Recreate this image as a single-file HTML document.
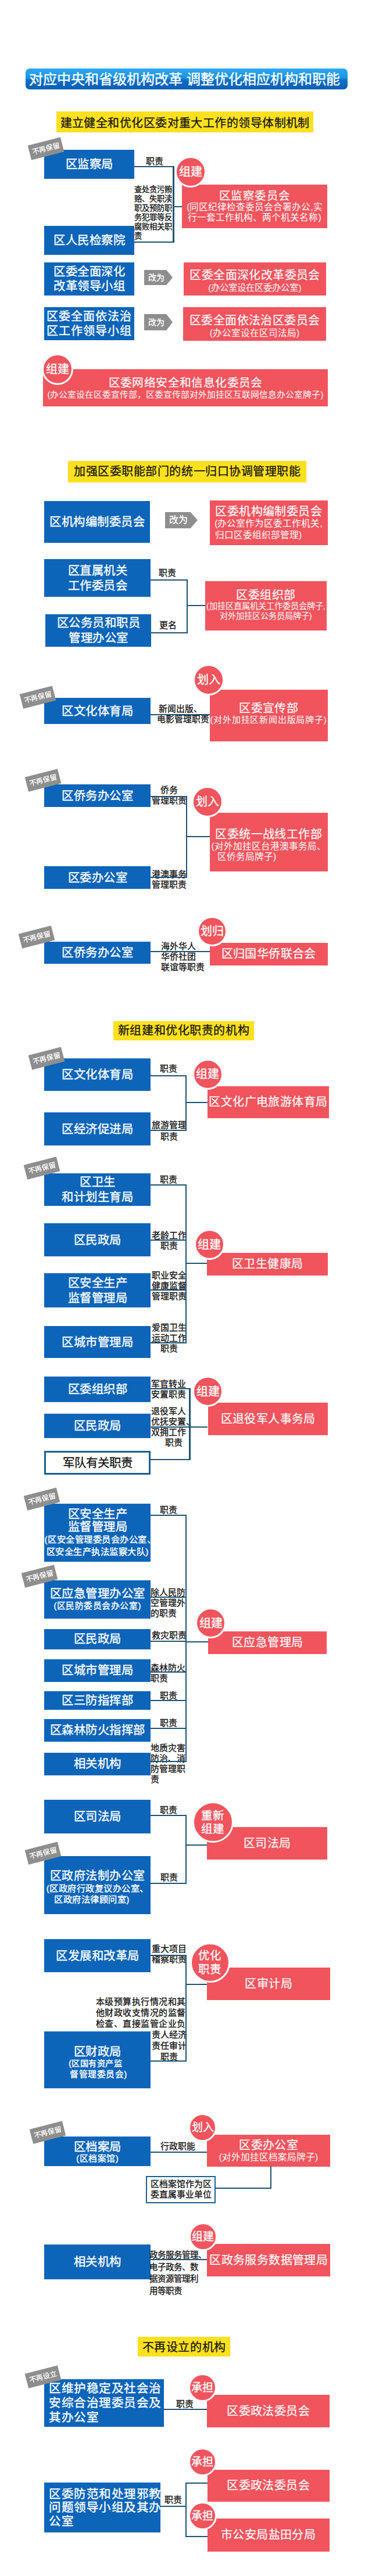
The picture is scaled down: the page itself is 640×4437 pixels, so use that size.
<!DOCTYPE html>
<html lang="zh-CN"><head><meta charset="utf-8"><title>机构改革</title><style>
*{margin:0;padding:0;box-sizing:content-box}
html,body{width:640px;height:4437px;background:#fff;overflow:hidden}
body{font-family:"Liberation Sans",sans-serif;position:relative}
.bx,.rx,.yx,.tg,.ci,.ln,.lb,.ar,.wx,.title{position:absolute}
.bx{letter-spacing:0.5px;text-indent:0.5px;white-space:nowrap;background:#0d65b9;color:#fff;-webkit-text-stroke:0.35px #fff;display:flex;flex-direction:column;justify-content:center;box-sizing:border-box}
.rx{letter-spacing:0.4px;text-indent:0.4px;white-space:nowrap;background:#f1545d;color:#fff;-webkit-text-stroke:0.2px #fff;display:flex;flex-direction:column;justify-content:center;text-align:center}
.yx{background:#fde01e;color:#111;text-align:center;-webkit-text-stroke:0.25px #111;white-space:nowrap}
.tg{background:#8e8e8e;color:#fff;-webkit-text-stroke:0.25px #fff;text-align:center;white-space:nowrap;z-index:3}
.ci{background:#f1545d;color:#fff;-webkit-text-stroke:0.3px #fff;border:3px solid #fff;border-radius:50%;display:flex;align-items:center;justify-content:center;text-align:center;z-index:4}
.ln{background:#1d5271}
.lb{color:#111;-webkit-text-stroke:0.3px #111;white-space:nowrap}
.ar{background:#8e8e8e;color:#fff;-webkit-text-stroke:0.3px #fff;text-align:left;padding-left:7px;box-sizing:border-box;clip-path:polygon(0 0,78% 0,100% 50%,78% 100%,0 100%)}
.wx{background:#fff;border:2px solid #1a5f8f;color:#111;-webkit-text-stroke:0.3px #111;text-align:center;display:flex;align-items:center;justify-content:center}
.title{background:linear-gradient(#2fa9f3 0%,#1a93e2 46%,#0c70c9 54%,#0a5eb4 100%);color:#fff;border-radius:7px;text-align:center;-webkit-text-stroke:0.4px #fff;white-space:nowrap}
</style></head>
<body>
<div class="title" style="left:44px;top:117.5px;width:554px;height:36.5px;line-height:38px;font-size:24px;text-indent:-7px">对应中央和省级机构改革 调整优化相应机构和职能</div>
<div class="yx" style="left:97px;top:192px;width:442px;height:36px;font-size:20px;line-height:41px;letter-spacing:0.44px;text-indent:0.44px">建立健全和优化区委对重大工作的领导体制机制</div>
<div class="bx" style="left:76px;top:258px;width:155px;height:50px;font-size:20.4px;line-height:26px;text-align:center;padding-left:0px;"><div>区监察局</div></div>
<div class="bx" style="left:76px;top:389px;width:155px;height:50px;font-size:20.4px;line-height:26px;text-align:center;padding-left:0px;"><div>区人民检察院</div></div>
<div class="bx" style="left:76px;top:452px;width:155px;height:57px;font-size:20.4px;line-height:25px;text-align:center;padding-left:0px;"><div>区委全面深化</div><div>改革领导小组</div></div>
<div class="bx" style="left:76px;top:529px;width:155px;height:57px;font-size:20px;line-height:25px;text-align:center;padding-left:0px;letter-spacing:1px"><div>区委全面依法治</div><div>区工作领导小组</div></div>
<div class="tg" style="left:50.0px;top:243.0px;width:58px;height:26px;line-height:26px;font-size:12px;transform:rotate(-14.5deg)">不再保留</div>
<div class="lb" style="left:244px;top:269px;width:44px;font-size:14.9px;line-height:18px;text-align:center">职责</div>
<div class="ln" style="left:231px;top:286.0px;width:68.5px;height:2px"></div>
<div class="ln" style="left:297.2px;top:286px;width:2.5px;height:131.5px"></div>
<div class="ln" style="left:231px;top:415.5px;width:68.5px;height:2px"></div>
<div class="ln" style="left:298.5px;top:355.0px;width:15.5px;height:2px"></div>
<div class="lb" style="left:231px;top:318.5px;width:68px;font-size:13.3px;line-height:16.1px;text-align:left">查处贪污贿<br>赂、失职渎<br>职及预防职<br>务犯罪等反<br>腐败相关职<br>责</div>
<div class="rx" style="left:313px;top:318px;width:250px;height:75px;font-size:19.5px;line-height:21px;"><div>区监察委员会</div><div style="font-size:15.6px;line-height:18.5px;letter-spacing:0px;text-indent:0;-webkit-text-stroke:0">(同区纪律检查委员会合署办公,实</div><div style="font-size:15.6px;line-height:18.5px;letter-spacing:0px;text-indent:0;-webkit-text-stroke:0">行一套工作机构、两个机关名称)</div></div>
<div class="ci" style="left:300.5px;top:268.5px;width:48px;height:48px;border-width:3px;font-size:20px;line-height:22px">组建</div>
<div class="ar" style="left:248px;top:465px;width:49px;height:26px;line-height:26px;font-size:14px">改为</div>
<div class="rx" style="left:316px;top:452px;width:245px;height:57px;font-size:20px;line-height:24px;padding-top:7px;box-sizing:border-box"><div>区委全面深化改革委员会</div><div style="font-size:15.4px;line-height:20px;letter-spacing:0px;text-indent:0;-webkit-text-stroke:0">(办公室设在区委办公室)</div></div>
<div class="ar" style="left:248px;top:541px;width:49px;height:28px;line-height:28px;font-size:14px">改为</div>
<div class="rx" style="left:315px;top:529px;width:246px;height:58px;font-size:20px;line-height:24px;padding-top:7px;box-sizing:border-box"><div>区委全面依法治区委员会</div><div style="font-size:15.6px;line-height:20px;letter-spacing:0px;text-indent:0;-webkit-text-stroke:0">(办公室设在区司法局)</div></div>
<div class="rx" style="left:74px;top:636px;width:490px;height:64px;font-size:19.8px;line-height:23px;"><div>区委网络安全和信息化委员会</div><div style="font-size:14.8px;line-height:18px;letter-spacing:0px;text-indent:0;-webkit-text-stroke:0">(办公室设在区委宣传部，区委宣传部对外加挂区互联网信息办公室牌子)</div></div>
<div class="ci" style="left:71.5px;top:608.5px;width:48px;height:48px;border-width:3px;font-size:20px;line-height:22px">组建</div>
<div class="yx" style="left:117px;top:793.5px;width:410px;height:37px;font-size:20px;line-height:37px;letter-spacing:0.55px;text-indent:0.55px">加强区委职能部门的统一归口协调管理职能</div>
<div class="bx" style="left:76px;top:863px;width:182px;height:72px;font-size:20.4px;line-height:26px;text-align:center;padding-left:0px;"><div>区机构编制委员会</div></div>
<div class="ar" style="left:284px;top:882px;width:56px;height:28px;line-height:28px;font-size:16px">改为</div>
<div class="rx" style="left:360.5px;top:862px;width:203px;height:77px;font-size:20px;line-height:22px;"><div>区委机构编制委员会</div><div style="font-size:15.6px;line-height:19.5px;letter-spacing:0px;text-indent:0;-webkit-text-stroke:0">(办公室作为区委工作机关,</div><div style="font-size:15.6px;line-height:19.5px;letter-spacing:0px;text-indent:0;-webkit-text-stroke:0"><span style="display:inline-block;width:184px;text-align:left">归口区委组织部管理)</span></div></div>
<div class="bx" style="left:76px;top:963px;width:183px;height:65px;font-size:20.4px;line-height:26px;text-align:center;padding-left:0px;"><div>区直属机关</div><div>工作委员会</div></div>
<div class="bx" style="left:78px;top:1058px;width:182px;height:56px;font-size:20.4px;line-height:26px;text-align:center;padding-left:0px;"><div>区公务员和职员</div><div>管理办公室</div></div>
<div class="lb" style="left:266px;top:978px;width:44px;font-size:14.9px;line-height:18px;text-align:center">职责</div>
<div class="lb" style="left:267px;top:1068px;width:44px;font-size:14.9px;line-height:18px;text-align:center">更名</div>
<div class="ln" style="left:259px;top:998.0px;width:64px;height:2px"></div>
<div class="ln" style="left:320.8px;top:998px;width:2.5px;height:93px"></div>
<div class="ln" style="left:260px;top:1089.0px;width:63px;height:2px"></div>
<div class="ln" style="left:322px;top:1042.0px;width:31px;height:2px"></div>
<div class="rx" style="left:352.5px;top:1001px;width:209.5px;height:85px;font-size:20px;line-height:22px;padding-bottom:3px;box-sizing:border-box"><div>区委组织部</div><div style="font-size:14.3px;line-height:17.5px;letter-spacing:0px;text-indent:0;-webkit-text-stroke:0">(加挂区直属机关工作委员会牌子,</div><div style="font-size:14.3px;line-height:17.5px;letter-spacing:0px;text-indent:0;-webkit-text-stroke:0">对外加挂区公务员局牌子)</div></div>
<div class="tg" style="left:36.0px;top:1188.0px;width:58px;height:26px;line-height:26px;font-size:12px;transform:rotate(-14.5deg)">不再保留</div>
<div class="bx" style="left:76px;top:1202px;width:183px;height:45px;font-size:20.4px;line-height:26px;text-align:center;padding-left:0px;"><div>区文化体育局</div></div>
<div class="lb" style="left:270px;top:1213px;width:80px;font-size:14.8px;line-height:17.7px;text-align:center">新闻出版、<br>电影管理职责</div>
<div class="ln" style="left:259px;top:1230.0px;width:102px;height:2px"></div>
<div class="rx" style="left:360.5px;top:1188px;width:203px;height:89px;font-size:20px;line-height:22px;padding-bottom:8px;box-sizing:border-box"><div>区委宣传部</div><div style="font-size:15px;line-height:18px;letter-spacing:0.8px;text-indent:0;-webkit-text-stroke:0">(对外加挂区新闻出版局牌子)</div></div>
<div class="ci" style="left:331.5px;top:1144.0px;width:48px;height:48px;border-width:3px;font-size:20px;line-height:22px">划入</div>
<div class="tg" style="left:45.0px;top:1331.0px;width:58px;height:26px;line-height:26px;font-size:12px;transform:rotate(-14.5deg)">不再保留</div>
<div class="bx" style="left:76px;top:1351px;width:183px;height:39px;font-size:20.4px;line-height:26px;text-align:center;padding-left:0px;"><div>区侨务办公室</div></div>
<div class="bx" style="left:76px;top:1492px;width:183px;height:39px;font-size:20.4px;line-height:26px;text-align:center;padding-left:0px;"><div>区委办公室</div></div>
<div class="lb" style="left:259px;top:1352px;width:64px;font-size:14.9px;line-height:18px;text-align:center">侨务<br>管理职责</div>
<div class="lb" style="left:259px;top:1497px;width:64px;font-size:14.9px;line-height:18px;text-align:center">港澳事务<br>管理职责</div>
<div class="ln" style="left:259px;top:1370.5px;width:63px;height:2px"></div>
<div class="ln" style="left:319.8px;top:1370.5px;width:2.5px;height:141.5px"></div>
<div class="ln" style="left:259px;top:1510.0px;width:63px;height:2px"></div>
<div class="ln" style="left:321px;top:1439.5px;width:40px;height:2px"></div>
<div class="rx" style="left:360.5px;top:1400px;width:203px;height:101px;font-size:20px;line-height:22px;padding-top:9px;box-sizing:border-box"><div>区委统一战线工作部</div><div style="font-size:15.6px;line-height:19px;letter-spacing:0px;text-indent:0;-webkit-text-stroke:0">(对外加挂区台港澳事务局、</div><div style="font-size:15.6px;line-height:17px;letter-spacing:0px;text-indent:0;-webkit-text-stroke:0"><span style="display:inline-block;width:176px;text-align:left">区侨务局牌子)</span></div></div>
<div class="ci" style="left:330.2px;top:1354.0px;width:48px;height:48px;border-width:3px;font-size:20px;line-height:22px">划入</div>
<div class="tg" style="left:34.0px;top:1601.0px;width:58px;height:26px;line-height:26px;font-size:12px;transform:rotate(-14.5deg)">不再保留</div>
<div class="bx" style="left:76px;top:1621.5px;width:183px;height:38px;font-size:20.4px;line-height:26px;text-align:center;padding-left:0px;"><div>区侨务办公室</div></div>
<div class="lb" style="left:277px;top:1620.5px;width:76px;font-size:14.9px;line-height:18.3px;text-align:left">海外华人<br>华侨社团<br>联谊等职责</div>
<div class="ln" style="left:259px;top:1637.5px;width:102px;height:2px"></div>
<div class="rx" style="left:360.5px;top:1623.5px;width:203px;height:39px;font-size:20.2px;line-height:39px;"><div>区归国华侨联合会</div></div>
<div class="ci" style="left:338.7px;top:1578.0px;width:46px;height:46px;border-width:3px;font-size:20px;line-height:22px">划归</div>
<div class="yx" style="left:194.5px;top:1759px;width:242.5px;height:33px;font-size:20px;line-height:33px;letter-spacing:0.57px;text-indent:0.57px">新组建和优化职责的机构</div>
<div class="tg" style="left:50.5px;top:1810.0px;width:58px;height:26px;line-height:26px;font-size:12px;transform:rotate(-14.5deg)">不再保留</div>
<div class="bx" style="left:76px;top:1823px;width:183px;height:56px;font-size:20.4px;line-height:26px;text-align:center;padding-left:0px;"><div>区文化体育局</div></div>
<div class="bx" style="left:76px;top:1916px;width:183px;height:57px;font-size:20.4px;line-height:26px;text-align:center;padding-left:0px;"><div>区经济促进局</div></div>
<div class="lb" style="left:266px;top:1832px;width:48px;font-size:14.9px;line-height:18px;text-align:center">职责</div>
<div class="lb" style="left:259px;top:1927.5px;width:64px;font-size:14.9px;line-height:20px;text-align:center">旅游管理<br>职责</div>
<div class="ln" style="left:259px;top:1852.0px;width:62px;height:2px"></div>
<div class="ln" style="left:318.8px;top:1852px;width:2.5px;height:96px"></div>
<div class="ln" style="left:259px;top:1946.0px;width:62px;height:2px"></div>
<div class="ln" style="left:320px;top:1898.0px;width:37px;height:2px"></div>
<div class="rx" style="left:356.5px;top:1870.5px;width:209.5px;height:55px;font-size:20px;line-height:55px;"><div>区文化广电旅游体育局</div></div>
<div class="ci" style="left:330.5px;top:1823.5px;width:47.0px;height:47.0px;border-width:3px;font-size:20px;line-height:22px">组建</div>
<div class="tg" style="left:43.0px;top:1999.0px;width:58px;height:26px;line-height:26px;font-size:12px;transform:rotate(-14.5deg)">不再保留</div>
<div class="bx" style="left:76px;top:2021px;width:183px;height:56px;font-size:20.4px;line-height:26px;text-align:center;padding-left:0px;"><div>区卫生</div><div>和计划生育局</div></div>
<div class="bx" style="left:76px;top:2107px;width:183px;height:57px;font-size:20.4px;line-height:26px;text-align:center;padding-left:0px;"><div>区民政局</div></div>
<div class="bx" style="left:76px;top:2193px;width:183px;height:59px;font-size:20.4px;line-height:26px;text-align:center;padding-left:0px;"><div>区安全生产</div><div>监督管理局</div></div>
<div class="bx" style="left:76px;top:2284px;width:183px;height:55px;font-size:20.4px;line-height:26px;text-align:center;padding-left:0px;"><div>区城市管理局</div></div>
<div class="lb" style="left:266px;top:2023px;width:48px;font-size:14.9px;line-height:18px;text-align:center">职责</div>
<div class="lb" style="left:259px;top:2119px;width:64px;font-size:14.9px;line-height:18px;text-align:center">老龄工作<br>职责</div>
<div class="lb" style="left:259px;top:2188px;width:64px;font-size:14.9px;line-height:18px;text-align:center">职业安全<br>健康监督<br>管理职责</div>
<div class="lb" style="left:259px;top:2278px;width:64px;font-size:14.9px;line-height:18px;text-align:center">爱国卫生<br>运动工作<br>职责</div>
<div class="ln" style="left:259px;top:2040.0px;width:62px;height:2px"></div>
<div class="ln" style="left:259px;top:2135.0px;width:62px;height:2px"></div>
<div class="ln" style="left:259px;top:2221.0px;width:62px;height:2px"></div>
<div class="ln" style="left:259px;top:2312.0px;width:62px;height:2px"></div>
<div class="ln" style="left:318.8px;top:2040px;width:2.5px;height:274px"></div>
<div class="ln" style="left:320px;top:2175.0px;width:37px;height:2px"></div>
<div class="rx" style="left:356px;top:2158px;width:208px;height:39px;font-size:20px;line-height:39px;"><div>区卫生健康局</div></div>
<div class="ci" style="left:333.8px;top:2117.0px;width:47.0px;height:47.0px;border-width:3px;font-size:20px;line-height:22px">组建</div>
<div class="bx" style="left:76px;top:2371px;width:183px;height:44px;font-size:20.4px;line-height:26px;text-align:center;padding-left:0px;"><div>区委组织部</div></div>
<div class="bx" style="left:76px;top:2435px;width:183px;height:42px;font-size:20.4px;line-height:26px;text-align:center;padding-left:0px;"><div>区民政局</div></div>
<div class="wx" style="left:76px;top:2499px;width:177px;height:35px;border-width:3px;font-size:20.5px;line-height:37px">军队有关职责</div>
<div class="lb" style="left:260px;top:2374.5px;width:64px;font-size:14.9px;line-height:18px;text-align:left">军官转业<br>安置职责</div>
<div class="lb" style="left:260px;top:2421.5px;width:72px;font-size:14.9px;line-height:18px;text-align:left">退役军人<br>优抚安置、<br>双拥工作<br><span style="padding-left:24px">职责</span></div>
<div class="ln" style="left:259px;top:2391.0px;width:68px;height:2px"></div>
<div class="ln" style="left:259px;top:2457.0px;width:98px;height:2px"></div>
<div class="ln" style="left:258px;top:2513.0px;width:69px;height:2px"></div>
<div class="ln" style="left:325.2px;top:2391px;width:2.5px;height:124px"></div>
<div class="rx" style="left:358px;top:2416px;width:206px;height:56px;font-size:20px;line-height:56px;"><div>区退役军人事务局</div></div>
<div class="ci" style="left:331.2px;top:2370.0px;width:47.0px;height:47.0px;border-width:3px;font-size:20px;line-height:22px">组建</div>
<div class="tg" style="left:43.0px;top:2568.5px;width:58px;height:26px;line-height:26px;font-size:12px;transform:rotate(-14.5deg)">不再保留</div>
<div class="tg" style="left:38.5px;top:2702.0px;width:58px;height:26px;line-height:26px;font-size:12px;transform:rotate(-14.5deg)">不再保留</div>
<div class="bx" style="left:76px;top:2590px;width:183px;height:100px;font-size:20.4px;line-height:22px;text-align:center;padding-left:0px;"><div>区安全生产</div><div>监督管理局</div><div style="font-size:15.3px;line-height:21px">(区安全管理委员会办公室、</div><div style="font-size:15.3px;line-height:21px">区安全生产执法监察大队)</div></div>
<div class="bx" style="left:76px;top:2722px;width:183px;height:66px;font-size:20.4px;line-height:22px;text-align:center;padding-left:0px;"><div>区应急管理办公室</div><div style="font-size:14.8px;line-height:20px">(区民防委员会办公室)</div></div>
<div class="bx" style="left:76px;top:2806px;width:183px;height:35px;font-size:20.4px;line-height:35px;text-align:center;padding-left:0px;"><div>区民政局</div></div>
<div class="bx" style="left:76px;top:2858px;width:183px;height:39px;font-size:20.4px;line-height:39px;text-align:center;padding-left:0px;"><div>区城市管理局</div></div>
<div class="bx" style="left:76px;top:2913px;width:183px;height:32px;font-size:20.4px;line-height:32px;text-align:center;padding-left:0px;"><div>区三防指挥部</div></div>
<div class="bx" style="left:76px;top:2961px;width:183px;height:39px;font-size:20.4px;line-height:39px;text-align:center;padding-left:0px;"><div>区森林防火指挥部</div></div>
<div class="bx" style="left:76px;top:3019px;width:183px;height:39px;font-size:20.4px;line-height:39px;text-align:center;padding-left:0px;"><div>相关机构</div></div>
<div class="lb" style="left:266px;top:2592px;width:48px;font-size:14.9px;line-height:18px;text-align:center">职责</div>
<div class="lb" style="left:259px;top:2734px;width:64px;font-size:14.9px;line-height:18px;text-align:left">除人民防<br>空管理外<br>的职责</div>
<div class="lb" style="left:259px;top:2808px;width:64px;font-size:14.9px;line-height:18px;text-align:center">救灾职责</div>
<div class="lb" style="left:259px;top:2864px;width:64px;font-size:14.9px;line-height:18px;text-align:left">森林防火<br>职责</div>
<div class="lb" style="left:266px;top:2912px;width:48px;font-size:14.9px;line-height:18px;text-align:center">职责</div>
<div class="lb" style="left:266px;top:2959px;width:48px;font-size:14.9px;line-height:18px;text-align:center">职责</div>
<div class="lb" style="left:259px;top:3002px;width:64px;font-size:14.9px;line-height:18px;text-align:left">地质灾害<br>防治、消<br>防管理职<br>责</div>
<div class="ln" style="left:259px;top:2609.0px;width:62px;height:2px"></div>
<div class="ln" style="left:259px;top:2750.0px;width:62px;height:2px"></div>
<div class="ln" style="left:259px;top:2826.0px;width:62px;height:2px"></div>
<div class="ln" style="left:259px;top:2879.0px;width:62px;height:2px"></div>
<div class="ln" style="left:259px;top:2928.0px;width:62px;height:2px"></div>
<div class="ln" style="left:259px;top:2976.0px;width:62px;height:2px"></div>
<div class="ln" style="left:259px;top:3033.0px;width:62px;height:2px"></div>
<div class="ln" style="left:318.8px;top:2609px;width:2.5px;height:426px"></div>
<div class="ln" style="left:320px;top:2827.0px;width:38px;height:2px"></div>
<div class="rx" style="left:358px;top:2810px;width:204px;height:39px;font-size:20px;line-height:39px;"><div>区应急管理局</div></div>
<div class="ci" style="left:336.0px;top:2769.0px;width:47.0px;height:47.0px;border-width:3px;font-size:20px;line-height:22px">组建</div>
<div class="bx" style="left:76px;top:3100px;width:183px;height:58px;font-size:20.4px;line-height:26px;text-align:center;padding-left:0px;"><div>区司法局</div></div>
<div class="tg" style="left:45.0px;top:3179.0px;width:58px;height:26px;line-height:26px;font-size:12px;transform:rotate(-14.5deg)">不再保留</div>
<div class="bx" style="left:76px;top:3197px;width:183px;height:100px;font-size:20px;line-height:24px;text-align:center;padding-left:0px;padding-top:6px"><div>区政府法制办公室</div><div style="font-size:15.3px;line-height:19.5px">(区政府行政复议办公室、</div><div style="font-size:15.3px;line-height:19.5px"><span style="display:inline-block;width:150px;text-align:left">区政府法律顾问室)</span></div></div>
<div class="lb" style="left:266px;top:3109px;width:48px;font-size:14.9px;line-height:18px;text-align:center">职责</div>
<div class="lb" style="left:267px;top:3225px;width:48px;font-size:14.9px;line-height:18px;text-align:center">职责</div>
<div class="ln" style="left:259px;top:3126.0px;width:62px;height:2px"></div>
<div class="ln" style="left:259px;top:3243.0px;width:62px;height:2px"></div>
<div class="ln" style="left:318.8px;top:3126px;width:2.5px;height:119px"></div>
<div class="ln" style="left:320px;top:3177.0px;width:37px;height:2px"></div>
<div class="rx" style="left:356px;top:3147px;width:207px;height:56px;font-size:20px;line-height:56px;"><div>区司法局</div></div>
<div class="ci" style="left:330.5px;top:3103.0px;width:65.0px;height:65.0px;border-width:3px;font-size:19.5px;line-height:23px">重新<br>组建</div>
<div class="bx" style="left:76px;top:3340px;width:183px;height:57px;font-size:20.4px;line-height:26px;text-align:center;padding-left:0px;"><div>区发展和改革局</div></div>
<div class="lb" style="left:259px;top:3348px;width:64px;font-size:14.9px;line-height:18px;text-align:center">重大项目<br>稽察职责</div>
<div class="lb" style="left:164.5px;top:3437.5px;width:160px;font-size:15px;line-height:19px;text-align:left"><span style="letter-spacing:0.55px">本级预算执行情况和其</span><br><span style="letter-spacing:0.55px">他财政收支情况的监督</span><br><span style="letter-spacing:0.55px">检查、直接监管企业负</span></div>
<div class="lb" style="left:259px;top:3494.5px;width:64px;font-size:15px;line-height:19px;text-align:center">责人经济<br>责任审计<br>职责</div>
<div class="bx" style="left:76px;top:3499px;width:183px;height:98px;font-size:20.4px;line-height:22px;text-align:center;padding-left:0px;padding-top:8px"><div>区财政局</div><div style="font-size:14.8px;line-height:19px"><span style="display:inline-block;width:100px;text-align:left;font-size:14.2px">(区国有资产监</span></div><div style="font-size:14.8px;line-height:18px"><span style="display:inline-block;width:96px;text-align:right">督管理委员会)</span></div></div>
<div class="ln" style="left:259px;top:3367.0px;width:62px;height:2px"></div>
<div class="ln" style="left:259px;top:3548.5px;width:62px;height:2px"></div>
<div class="ln" style="left:318.8px;top:3367px;width:2.5px;height:184px"></div>
<div class="ln" style="left:320px;top:3417.0px;width:37px;height:2px"></div>
<div class="rx" style="left:356px;top:3389px;width:212px;height:56px;font-size:20px;line-height:56px;"><div>区审计局</div></div>
<div class="ci" style="left:326.7px;top:3345.5px;width:63.0px;height:63.0px;border-width:3px;font-size:19.5px;line-height:24px">优化<br>职责</div>
<div class="tg" style="left:52.5px;top:3660.0px;width:58px;height:26px;line-height:26px;font-size:12px;transform:rotate(-14.5deg)">不再保留</div>
<div class="bx" style="left:76px;top:3680px;width:183px;height:51px;font-size:20.4px;line-height:22px;text-align:center;padding-left:0px;padding-top:2px"><div>区档案局</div><div style="font-size:14.8px;line-height:18px">(区档案馆)</div></div>
<div class="lb" style="left:270px;top:3688px;width:72px;font-size:14.9px;line-height:18px;text-align:center">行政职能</div>
<div class="ln" style="left:259px;top:3706.0px;width:98px;height:2px"></div>
<div class="wx" style="left:251px;top:3747.5px;width:116.0px;height:43.5px;border-width:2.5px;font-size:14.8px;line-height:18px">区档案馆作为区<br>委直属事业单位</div>
<div class="rx" style="left:356px;top:3677px;width:212px;height:55px;font-size:20px;line-height:22px;"><div>区委办公室</div><div style="font-size:15.6px;line-height:19px;letter-spacing:0px;text-indent:0;-webkit-text-stroke:0">(对外加挂区档案局牌子)</div></div>
<div class="ln" style="left:464.6px;top:3731px;width:2.5px;height:39px"></div>
<div class="ln" style="left:371px;top:3768.0px;width:96px;height:2px"></div>
<div class="ci" style="left:324.0px;top:3639.9px;width:43.0px;height:43.0px;border-width:3px;font-size:19px;line-height:21px">划入</div>
<div class="bx" style="left:76px;top:3866px;width:183px;height:60px;font-size:20.4px;line-height:26px;text-align:center;padding-left:0px;"><div>相关机构</div></div>
<div class="lb" style="left:257px;top:3874px;width:100px;font-size:14.5px;line-height:20.5px;text-align:left">政务服务管理、<br>电子政务、数<br>据资源管理利<br>用等职责</div>
<div class="ln" style="left:259px;top:3891.0px;width:99px;height:2px"></div>
<div class="rx" style="left:356px;top:3865px;width:212px;height:56px;font-size:20px;line-height:56px;"><div>区政务服务数据管理局</div></div>
<div class="ci" style="left:324.5px;top:3828.0px;width:43.0px;height:43.0px;border-width:3px;font-size:19px;line-height:21px">组建</div>
<div class="yx" style="left:237px;top:4025px;width:159px;height:33.5px;font-size:20px;line-height:37.5px;letter-spacing:0.6px;text-indent:0.6px">不再设立的机构</div>
<div class="tg" style="left:44.5px;top:4081.0px;width:58px;height:26px;line-height:26px;font-size:12px;transform:rotate(-14.5deg)">不再设立</div>
<div class="bx" style="left:75.5px;top:4097.5px;width:206.5px;height:82.5px;font-size:20.6px;line-height:25px;text-align:left;padding-left:8px;"><div>区维护稳定及社会治</div><div>安综合治理委员会及</div><div>其办公室</div></div>
<div class="lb" style="left:298px;top:4132px;width:40px;font-size:14.9px;line-height:18px;text-align:center">职责</div>
<div class="ln" style="left:281px;top:4148.5px;width:76px;height:2px"></div>
<div class="rx" style="left:356px;top:4125px;width:211px;height:56px;font-size:20px;line-height:56px;"><div>区委政法委员会</div></div>
<div class="ci" style="left:323.7px;top:4087.5px;width:43.0px;height:43.0px;border-width:3px;font-size:19px;line-height:21px">承担</div>
<div class="bx" style="left:75.5px;top:4276px;width:200px;height:86px;font-size:20.6px;line-height:23.5px;text-align:left;padding-left:8px;"><div>区委防范和处理邪教</div><div>问题领导小组及其办</div><div>公室</div></div>
<div class="lb" style="left:280px;top:4297px;width:36px;font-size:14.9px;line-height:18px;text-align:center">职责</div>
<div class="ln" style="left:275px;top:4315.5px;width:46px;height:2px"></div>
<div class="ln" style="left:318.8px;top:4276px;width:2.5px;height:94px"></div>
<div class="ln" style="left:320px;top:4276.0px;width:37px;height:2px"></div>
<div class="ln" style="left:320px;top:4368.0px;width:37px;height:2px"></div>
<div class="rx" style="left:356.5px;top:4253.5px;width:210px;height:55px;font-size:20px;line-height:55px;"><div>区委政法委员会</div></div>
<div class="ci" style="left:323.7px;top:4215.5px;width:43.0px;height:43.0px;border-width:3px;font-size:19px;line-height:21px">承担</div>
<div class="rx" style="left:356.5px;top:4338px;width:210px;height:57px;font-size:20px;line-height:57px;"><div>市公安局盐田分局</div></div>
<div class="ci" style="left:323.7px;top:4309.0px;width:43.0px;height:43.0px;border-width:3px;font-size:19px;line-height:21px">承担</div>
</body></html>
